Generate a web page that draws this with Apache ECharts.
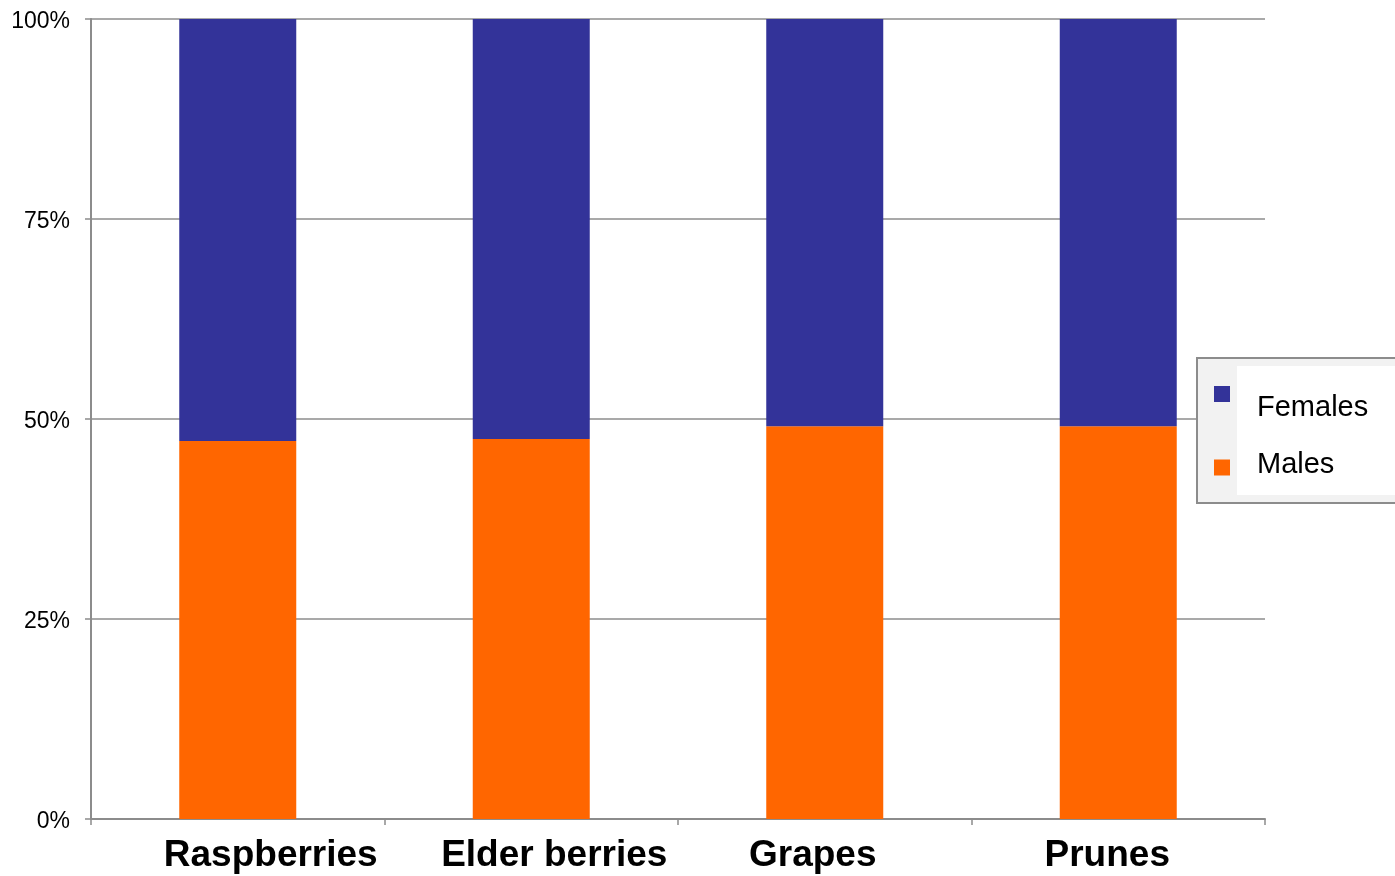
<!DOCTYPE html>
<html>
<head>
<meta charset="utf-8">
<title>Males / Females by fruit</title>
<script src="https://cdn.jsdelivr.net/npm/echarts@6/dist/echarts.min.js"></script>
<style>
  html, body { margin: 0; padding: 0; background: #fff; }
  #chart { width: 1395px; height: 876px; }
</style>
</head>
<body>
<div id="chart"></div>
<script>
// data
const categories = ['Raspberries', 'Elder berries', 'Grapes', 'Prunes']
const malesPct = [47.25, 47.5, 49.1, 49.1]
const femalesPct = [52.75, 52.5, 50.9, 50.9]
const yTicks = [0, 25, 50, 75, 100]

// label nudges (px) so the category names sit like in the original
const labelShift = [33, 23, -12, -11]

const FONT = '"Liberation Sans", Arial, sans-serif'
const AXIS_GRAY = '#8c8c8c'

const rich = {}
categories.forEach((c, i) => {
  const s = labelShift[i]
  rich['c' + i] = {
    fontFamily: FONT, fontSize: 37, fontWeight: 'bold', color: '#000',
    padding: s >= 0 ? [0, 0, 0, 2 * s] : [0, -2 * s, 0, 0],
  }
})

const legendText = (padding) => ({
  fontFamily: FONT, fontSize: 29, color: '#000',
  rich: { t: { fontFamily: FONT, fontSize: 29, color: '#000', padding } },
})

const chart = echarts.init(document.getElementById('chart'))
chart.setOption({
  animation: false,
  backgroundColor: '#fff',
  grid: { left: 91, right: 130, top: 19, bottom: 57, containLabel: false },
  xAxis: {
    type: 'category',
    data: categories,
    axisLine: { lineStyle: { color: AXIS_GRAY, width: 2 } },
    axisTick: { show: true, length: 6, lineStyle: { color: AXIS_GRAY, width: 1.5 } },
    axisLabel: {
      margin: 18,
      formatter: (v) => '{c' + categories.indexOf(v) + '|' + v + '}',
      rich,
    },
  },
  yAxis: {
    type: 'value',
    min: yTicks[0],
    max: yTicks[yTicks.length - 1],
    interval: 25,
    axisLine: { show: true, lineStyle: { color: AXIS_GRAY, width: 2 } },
    axisTick: { show: true, length: 6, lineStyle: { color: AXIS_GRAY, width: 1.5 } },
    splitLine: { lineStyle: { color: AXIS_GRAY, width: 1.5 } },
    axisLabel: {
      margin: 21,
      formatter: (v) => '{p|' + v + '%}',
      rich: { p: { fontFamily: FONT, fontSize: 23, color: '#000', padding: [5, 0, 0, 0] } },
    },
  },
  graphic: [
    {
      type: 'rect', z: 1,
      shape: { x: 1197, y: 358, width: 210, height: 145 },
      style: { fill: '#f2f2f2', stroke: '#8c8c8c', lineWidth: 2 },
    },
    {
      type: 'rect', z: 2,
      shape: { x: 1237, y: 366, width: 170, height: 129 },
      style: { fill: '#fff' },
    },
  ],
  legend: [
    {
      data: ['Females'], left: 1214, top: 386, z: 10, padding: 0,
      icon: 'rect', itemWidth: 16, itemHeight: 16, itemGap: 0,
      formatter: (n) => '{t|' + n + '}',
      textStyle: legendText([27, 0, 0, 22]),
    },
    {
      data: ['Males'], left: 1214, top: 450, z: 10, padding: 0,
      icon: 'rect', itemWidth: 16, itemHeight: 16, itemGap: 0,
      formatter: (n) => '{t|' + n + '}',
      textStyle: legendText([0, 0, 6, 22]),
    },
  ],
  series: [
    {
      name: 'Males', type: 'bar', stack: 'all', barWidth: 117,
      itemStyle: { color: '#ff6600' },
      data: malesPct,
    },
    {
      name: 'Females', type: 'bar', stack: 'all', barWidth: 117,
      itemStyle: { color: '#333399' },
      data: femalesPct,
    },
  ],
})
</script>
</body>
</html>
